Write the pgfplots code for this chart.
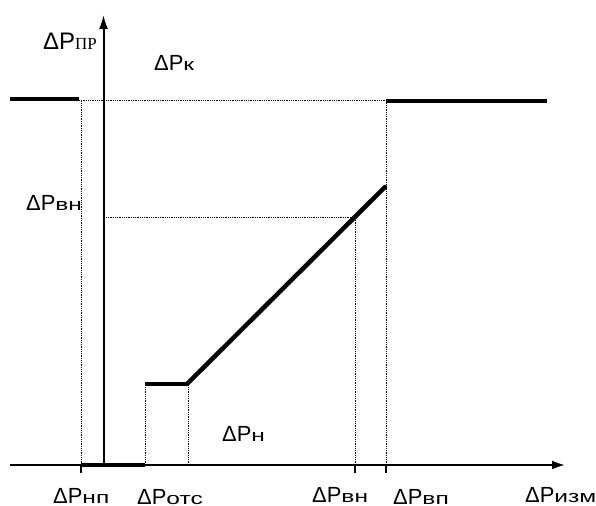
\documentclass[border=0pt]{standalone}
\usepackage{graphicx}
\usepackage{pgfplots}
\pgfplotsset{compat=1.18}
\usepackage{fontspec}
\setmainfont{Liberation Sans}
\newfontfamily\serifcyr{Liberation Serif}
\usetikzlibrary{arrows.meta}

% label: "ΔP" plus wide index letters on the same baseline
\newcommand\dlab[1]{{\fontsize{22}{22}\selectfont ΔP}\scalebox{1.45}[1]{\fontsize{17}{17}\selectfont #1}}

\begin{document}
\begin{tikzpicture}
\begin{axis}[
  width=596bp, height=506bp,
  scale only axis,
  xmin=0, xmax=596,
  ymin=0, ymax=506,
  hide axis,
  clip=false,
]
% axes
\addplot [black, line width=2bp, -{Latex[length=13bp,width=9bp]}] coordinates {(10,41) (565,41)};
\addplot [black, line width=2bp, -{Latex[length=14bp,width=9bp]}] coordinates {(103.5,41) (103.5,491)};

% helper lines
\addplot [black, line width=0.8bp, densely dotted] coordinates {(79,406) (386,406)};
\addplot [black, line width=0.8bp, densely dotted] coordinates {(81,41) (81,406)};
\addplot [black, line width=0.8bp, densely dotted] coordinates {(145,41) (145,122)};
\addplot [black, line width=0.8bp, densely dotted] coordinates {(188,41) (188,122)};
\addplot [black, line width=0.8bp, densely dotted] coordinates {(106,289) (355,289)};
\addplot [black, line width=0.8bp, densely dotted] coordinates {(355,41) (355,289)};
\addplot [black, line width=0.8bp, densely dotted] coordinates {(386,41) (386,406)};

% ticks under the x axis
\addplot [black, line width=1.5bp] coordinates {(81,33) (81,41)};
\addplot [black, line width=1.5bp] coordinates {(355,33) (355,41)};
\addplot [black, line width=1.5bp] coordinates {(386,33) (386,41)};

% characteristic
\addplot [black, line width=4.5bp] coordinates {(10,407) (79,407)};
\addplot [black, line width=4.5bp] coordinates {(386,405) (547,405)};
\addplot [black, line width=4.5bp] coordinates {(81,41) (145,41)};
\addplot [black, line width=4.5bp] coordinates {(145,122) (187,122)};
\addplot [black, line width=4.5bp, line cap=round] coordinates {(187,122) (385,319)};

% labels
\node [anchor=base west, inner sep=0] at (axis cs:43,456)
  {{\fontsize{24}{24}\selectfont ΔP}{\serifcyr\fontsize{17}{17}\selectfont ПР}};
\node [anchor=base west, inner sep=0] at (axis cs:154,435) {\dlab{к}};
\node [anchor=base west, inner sep=0] at (axis cs:26,295) {\dlab{вн}};
\node [anchor=base west, inner sep=0] at (axis cs:222,64) {\dlab{н}};
\node [anchor=base west, inner sep=0] at (axis cs:53,3) {\dlab{нп}};
\node [anchor=base west, inner sep=0] at (axis cs:137,2) {\dlab{отс}};
\node [anchor=base west, inner sep=0] at (axis cs:312,4) {\dlab{вн}};
\node [anchor=base west, inner sep=0] at (axis cs:393,2) {\dlab{вп}};
\node [anchor=base west, inner sep=0] at (axis cs:525,4) {\dlab{изм}};
\end{axis}
\pgfresetboundingbox
\path [use as bounding box] (0,0) rectangle (596bp,506bp);
\end{tikzpicture}
\end{document}
